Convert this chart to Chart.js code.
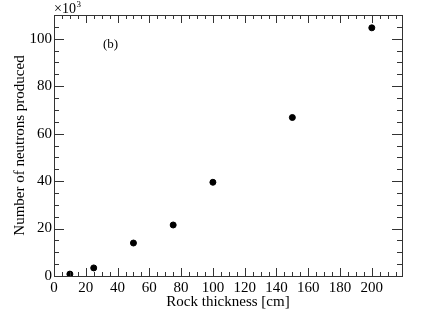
<!DOCTYPE html>
<html>
<head>
<meta charset="utf-8">
<script src="https://cdn.jsdelivr.net/npm/chart.js@4"></script>
<style>
  html, body { margin: 0; padding: 0; background: #fff; }
  #wrap { width: 424px; height: 318px; }
</style>
</head>
<body>
<div id="wrap"><canvas id="neutronChart" width="424" height="318"></canvas></div>
<script>
// rock thickness in cm, neutron count in units of 10^3
var thickness = [10, 25, 50, 75, 100, 150, 200];
var neutrons = [0.8, 3.4, 13.9, 21.5, 39.5, 66.8, 104.6];

var xTicks = [0, 20, 40, 60, 80, 100, 120, 140, 160, 180, 200];
var yTicks = [0, 20, 40, 60, 80, 100];

var serif = '"Liberation Serif", "DejaVu Serif", serif';
var axisColor = '#333';

// ROOT-like frame: box around the plot with inward ticks on all sides
var frameTicks = {
    id: 'frameTicks',
    afterDraw: function(chart) {
        var c = chart.ctx;
        var a = chart.chartArea;
        var xs = chart.scales.x, ys = chart.scales.y;
        c.save();
        c.strokeStyle = axisColor;
        c.lineWidth = 1;
        c.strokeRect(a.left + 0.5, a.top + 0.5, a.right - a.left, a.bottom - a.top);
        c.beginPath();
        for (var v = 0; v <= xs.max; v += 5) {
            var px = Math.round(xs.getPixelForValue(v)) + 0.5;
            var len = (v % 20 === 0) ? 8 : 4;
            c.moveTo(px, a.bottom);
            c.lineTo(px, a.bottom - len);
            c.moveTo(px, a.top);
            c.lineTo(px, a.top + len);
        }
        for (var w = 0; w <= ys.max; w += 5) {
            var py = Math.round(ys.getPixelForValue(w)) + 0.5;
            var l2 = (w % 20 === 0) ? 10 : 5;
            c.moveTo(a.left, py);
            c.lineTo(a.left + l2, py);
            c.moveTo(a.right, py);
            c.lineTo(a.right - l2, py);
        }
        c.stroke();

        c.fillStyle = '#000';
        c.textBaseline = 'alphabetic';
        c.textAlign = 'left';
        c.font = '14px ' + serif;
        var base = '\u00d710';
        c.fillText(base, a.left, a.top - 2);
        var bw = c.measureText(base).width;
        c.font = '9px ' + serif;
        c.fillText('3', a.left + bw + 0.5, a.top - 8);
        c.font = '13px ' + serif;
        c.fillText('(b)', 103, 48);
        c.restore();
    }
};

new Chart(document.getElementById('neutronChart').getContext('2d'), {
    type: 'scatter',
    data: {
        datasets: [{
            data: thickness.map(function(t, i) { return { x: t, y: neutrons[i] }; }),
            backgroundColor: '#000',
            borderColor: '#000',
            pointRadius: 3,
            pointHoverRadius: 3
        }]
    },
    options: {
        responsive: false,
        animation: false,
        layout: { padding: { top: 15, right: 22, left: 0, bottom: 0 } },
        plugins: {
            legend: { display: false },
            tooltip: { enabled: false }
        },
        scales: {
            x: {
                type: 'linear',
                min: 0,
                max: 219,
                grid: { display: false, drawTicks: false },
                border: { display: false },
                afterFit: function(s) { s.height = 42; },
                afterBuildTicks: function(s) {
                    s.ticks = xTicks.map(function(v) { return { value: v }; });
                },
                ticks: {
                    color: '#000',
                    font: { family: serif, size: 15 },
                    padding: 3,
                    maxRotation: 0
                },
                title: {
                    display: true,
                    text: 'Rock thickness [cm]',
                    color: '#000',
                    font: { family: serif, size: 15 },
                    padding: { top: 0, bottom: 7 }
                }
            },
            y: {
                type: 'linear',
                min: 0,
                max: 110,
                grid: { display: false, drawTicks: false },
                border: { display: false },
                afterFit: function(s) { s.width = 54; },
                afterBuildTicks: function(s) {
                    s.ticks = yTicks.map(function(v) { return { value: v }; });
                },
                ticks: {
                    color: '#000',
                    font: { family: serif, size: 15 },
                    padding: 2
                },
                title: {
                    display: true,
                    text: 'Number of neutrons produced',
                    color: '#000',
                    font: { family: serif, size: 15 },
                    padding: { top: 11, bottom: 0 }
                }
            }
        }
    },
    plugins: [frameTicks]
});
</script>
</body>
</html>
